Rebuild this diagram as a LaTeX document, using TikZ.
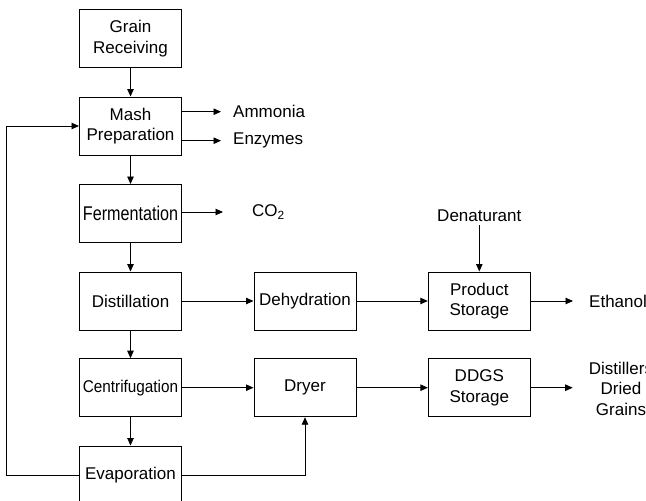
\documentclass[tikz,border=0pt]{standalone}
\usepackage{fontspec}
\usepackage{graphicx}
\setmainfont{Liberation Sans}
\usetikzlibrary{arrows.meta}
\tikzset{
  txt/.style={font=\fontsize{17}{20.5}\selectfont},
  box/.style={txt, draw, line width=1pt, minimum width=102pt, minimum height=58pt, inner sep=0pt, align=center},
  lbl/.style={txt, inner sep=0pt, align=center},
  arr/.style={-{Triangle[length=7.5pt,width=6.5pt]}, line width=0.9pt}
}
\begin{document}
\begin{tikzpicture}[x=1pt,y=-1pt]
\useasboundingbox (0,0) rectangle (646,501);
\clip (0,0) rectangle (646,501);
\fill[white] (0,0) rectangle (646,501);
% left column
\node[box] (grain) at (130.5,38.5) {Grain\\Receiving};
\node[box] (mash)  at (130.5,126) {Mash\\Preparation};
\node[box] (ferm)  at (130.5,213.5) {\scalebox{0.95}[1.17]{Fermentation}};
\node[box] (dist)  at (130.5,301) {Distillation};
\node[box] (cent)  at (130.5,387.7) {\scalebox{0.9}[1]{Centrifugation}};
\node[box] (evap)  at (130.5,475) {Evaporation};
% middle & right
\node[box] (dehy)  at (305,301) {Dehydration};
\node[box] (prod)  at (479.3,301) {Product\\Storage};
\node[box] (dryer) at (305,387.7) {Dryer};
\node[box] (ddgs)  at (479.3,387.7) {DDGS\\Storage};
% labels
\node[lbl, anchor=west] (amm) at (233,111.7) {Ammonia};
\node[lbl, anchor=west] (enz) at (233,140.7) {Enzymes};
\node[lbl, anchor=west] (co2) at (252,212) {CO\textsubscript{2}};
\node[lbl] (den) at (479.3,216) {Denaturant};
\node[lbl, anchor=west] (eth) at (589,301) {Ethanol};
\node[lbl] (ddg) at (621,388.5) {Distillers\\Dried\\Grains};
% vertical flow
\draw[arr] (grain) -- (mash);
\draw[arr] (mash) -- (ferm);
\draw[arr] (ferm) -- (dist);
\draw[arr] (dist) -- (cent);
\draw[arr] (cent) -- (evap);
% outputs
\draw[arr] (amm.west -| mash.east) -- ([xshift=-12pt]amm.west);
\draw[arr] (enz.west -| mash.east) -- ([xshift=-12pt]enz.west);
\draw[arr] (co2.west -| ferm.east) -- ([xshift=-29pt]co2.west);
\draw[arr] (dist) -- (dehy);
\draw[arr] (dehy) -- (prod);
\draw[arr, shorten <=3pt] (den) -- (prod);
\draw[arr] (prod.east) -- ([xshift=-16pt]eth.west);
\draw[arr] (cent) -- (dryer);
\draw[arr] (dryer) -- (ddgs);
\draw[arr] (ddgs.east) -- ([xshift=-16pt]ddg.west |- ddgs.east);
\draw[arr] (evap.east) -| (dryer.south);
\draw[arr] (evap.west) -- ++(-72.8,0) |- (mash.west);
\end{tikzpicture}
\end{document}
